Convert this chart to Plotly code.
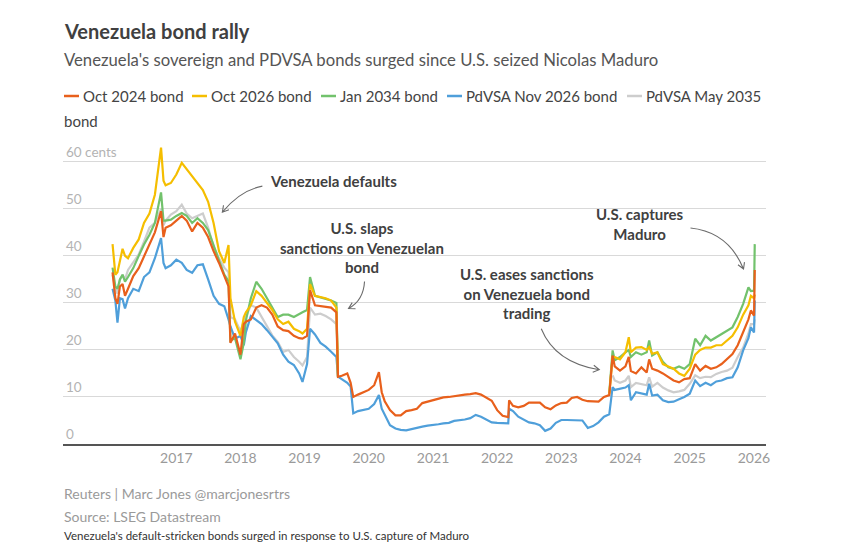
import math
import plotly.graph_objects as go

# ---------------- data (cents on the dollar) ----------------
dates = [
    "2016-01-04", "2016-01-20", "2016-02-01", "2016-02-15", "2016-03-01", "2016-03-15",
    "2016-04-01", "2016-05-01", "2016-06-01", "2016-07-01", "2016-08-01", "2016-09-01",
    "2016-10-06", "2016-10-20", "2016-11-01", "2016-12-01", "2017-01-01", "2017-02-01",
    "2017-03-01", "2017-04-01", "2017-05-01", "2017-06-01", "2017-07-01", "2017-08-01",
    "2017-09-01", "2017-10-01", "2017-10-25", "2017-11-05", "2017-12-01", "2018-01-01",
    "2018-01-20", "2018-02-01", "2018-03-01", "2018-04-01", "2018-05-01", "2018-06-01",
    "2018-07-01", "2018-08-01", "2018-09-01", "2018-10-01", "2018-11-01", "2018-12-01",
    "2018-12-20", "2019-01-15", "2019-02-01", "2019-03-01", "2019-04-01", "2019-05-01",
    "2019-06-01", "2019-07-01", "2019-07-10", "2019-08-01", "2019-09-01", "2019-09-20",
    "2019-10-05", "2019-11-01", "2019-12-01", "2020-01-01", "2020-02-01", "2020-02-28",
    "2020-03-15", "2020-04-01", "2020-05-01", "2020-06-01", "2020-07-01", "2020-08-01",
    "2020-09-01", "2020-10-01", "2020-11-01", "2020-12-01", "2021-01-01", "2021-02-01",
    "2021-03-01", "2021-04-01", "2021-05-01", "2021-06-01", "2021-07-01", "2021-08-01",
    "2021-09-01", "2021-10-01", "2021-11-01", "2021-12-01", "2022-01-01", "2022-02-01",
    "2022-03-05", "2022-03-10", "2022-04-01", "2022-05-01", "2022-06-01", "2022-07-01",
    "2022-08-01", "2022-09-01", "2022-10-01", "2022-11-01", "2022-12-01", "2023-01-01",
    "2023-02-01", "2023-03-01", "2023-04-01", "2023-05-01", "2023-06-01", "2023-07-01",
    "2023-08-01", "2023-09-01", "2023-10-01", "2023-10-20", "2023-11-01", "2023-12-01",
    "2024-01-01", "2024-01-20", "2024-02-01", "2024-03-01", "2024-04-01", "2024-05-01",
    "2024-05-15", "2024-06-01", "2024-07-01", "2024-08-01", "2024-09-01", "2024-10-01",
    "2024-11-01", "2024-12-01", "2025-01-01", "2025-02-01", "2025-03-01", "2025-04-01",
    "2025-05-01", "2025-06-01", "2025-07-01", "2025-08-01", "2025-09-01", "2025-10-01",
    "2025-11-01", "2025-12-01", "2025-12-15", "2026-01-02", "2026-01-06",
]

N = None
oct2024 = [
    36.5, 31, 29.8, 33.5, 34, 31.5, 33, 35.7, 37.4, 40, 42.5, 45,
    49.5, 44, 46, 46.5, 47.5, 48.5, 47.5, 45.2, 47, 46, 44, 41,
    38.5, 35.5, 33.5, 21.5, 23.5, 19, 25.5, 26, 26.5, 29, 29.5, 29,
    27.5, 25, 24.2, 24, 23, 22.5, 22.4, 23, 32.7, 29.5, 29.3, 29.2,
    29, 28, 14.3, 14.5, 15, 13, 10, 10.5, 11, 11.5, 12.5, 15.3,
    11, 9.1, 7.2, 6.1, 6.1, 7, 7.2, 7.5, 8.7, 9, 9.2, 9.5,
    9.9, 10, 10.2, 10.3, 10.5, 10.6, 10.8, 10.5, 9.9, 9.2, 7.2, 6,
    5.7, 9.3, 8.1, 7.8, 8.1, 8.8, 8.8, 8.8, 7.8, 7.4, 8.2, 8.7,
    8.8, 9.8, 10, 9.4, 9.1, 9, 9, 10, 10.4, 18.8, 16.5, 15.6,
    16.5, 18.5, 15.5, 15, 16.3, 15.2, 18, 16, 15.6, 15, 14.2, 13.5,
    13.1, 13.8, 14, 17, 15.6, 16.6, 16, 16.3, 17, 18, 19.1, 21,
    24, 26.5, 28.4, 27.3, 37,
]
oct2026 = [
    42.5, 36, 36.5, 39, 41.5, 40, 39.5, 41.7, 43.5, 47, 49, 53,
    63, 56, 55, 55.5, 57.3, 59.8, 58.5, 57, 55.5, 54, 51.5, 47,
    41, 38.5, 42.3, 31, 26, 23, 27, 28, 29.5, 32.5, 31.5, 30,
    28.5, 26.5, 25.5, 26, 24.5, 24, 23.5, 24.5, 34, 31.5, 31.2, 31,
    30.5, 29, 14.3, N, N, N, N, N, N, N, N, N,
    N, N, N, N, N, N, N, N, N, N, N, N,
    N, N, N, N, N, N, N, N, N, N, N, N,
    N, N, N, N, N, N, N, N, N, N, N, N,
    N, N, N, N, N, N, N, N, 10.6, 18.5, 18.5, 18,
    19.5, 22.7, 19.5, 20.5, 20.6, 20, 20.6, 19.2, 19.5, 17, 16.5, 16,
    15, 14.5, 16, 19, 20, 20.5, 20.5, 21, 21, 22, 23, 24.8,
    27.5, 29.5, 31.5, 31, 31.8,
]
jan2034 = [
    37.5, 33.5, 33, 35, 36, 34.5, 35.5, 37.4, 40, 42.4, 44.5, 47,
    53.5, 47.5, 47.5, 47.7, 48.5, 49.1, 48.5, 47, 48, 47, 45.5, 42,
    39, 36, 34.6, 22, 22.5, 18, 21.5, 26.3, 31, 34.5, 33, 31,
    29, 27, 27.5, 27.5, 27, 27.7, 28, 28.5, 35.5, 31.5, 31.2, 30.8,
    30.5, 30, 14.3, N, N, N, N, N, N, N, N, N,
    N, N, N, N, N, N, N, N, N, N, N, N,
    N, N, N, N, N, N, N, N, N, N, N, N,
    N, N, N, N, N, N, N, N, N, N, N, N,
    N, N, N, N, N, N, N, N, 10.8, 19.9, 17.8, 18.5,
    19.5, 20, 18.5, 19.5, 19, 19.5, 22, 18.8, 19.5, 17.5, 16.3, 16,
    16.5, 16, 17, 22.4, 21, 23, 22, 22.7, 23.5, 24.1, 24.8, 27,
    29.8, 33.3, 32.5, 32.6, 42.5,
]
pdvsa_nov2026 = [
    33, 30.5, 25.8, 31, 30.8, 28.8, 31, 33, 32.5, 35.5, 36.5, 39.5,
    43.8, 38.5, 37.4, 38, 39.2, 38.5, 37, 36.4, 38, 38.2, 35, 31.5,
    29.8, 29.3, 26.5, 25, 22.4, 23, 21, 23.8, 27.2, 26.3, 25.5, 24.2,
    22.8, 21.4, 19, 17.5, 16.8, 15, 13.2, 17, 24.5, 23.3, 21.5, 20.7,
    19.6, 18.5, 14.3, 13.8, 13, 12.2, 6.5, 7, 7.2, 7.5, 8.5, 10.4,
    7.5, 6.1, 4, 3.3, 3, 2.9, 3.2, 3.5, 3.7, 3.9, 4, 4.2,
    4.4, 4.5, 4.9, 5, 5.2, 5.5, 6.2, 5.8, 5.2, 4.6, 4.5, 4.4,
    4.4, 7.5, 7, 5.8, 5.2, 4.6, 4.4, 4, 2.8, 3.3, 4.5, 5.1,
    5.1, 5.1, 5.1, 5, 3.4, 3.8, 4.6, 5.8, 6.3, 12.1, 11.5, 11.8,
    12, 12.5, 9.3, 11, 10.8, 10.5, 12.8, 10.3, 10.5, 9.3, 8.9, 9,
    9.5, 10, 10.7, 13.5, 12.3, 13, 12.5, 13.3, 13.5, 14, 14.2, 16.3,
    19.9, 22.5, 24.8, 23.7, 30.5,
]
pdvsa_may2035 = [
    36, 33, 32, 35, 36, 35, 37, 38.5, 40.3, 43, 46, 47,
    50, 46.5, 47.5, 48.8, 49.5, 50.9, 49, 48, 48.5, 49, 46, 42,
    39.5, 37.5, 36.5, 27, 26.5, 24, 26, 27, 29.5, 29, 27, 25,
    23.1, 21.7, 19.6, 20, 18.5, 17.5, 16.7, 18.5, 29, 27.5, 27.7, 27.2,
    26.5, 25.5, 14.3, N, N, N, N, N, N, N, N, N,
    N, N, N, N, N, N, N, N, N, N, N, N,
    N, N, N, N, N, N, N, N, N, N, N, N,
    N, N, N, N, N, N, N, N, N, N, N, N,
    N, N, N, N, N, N, N, N, N, 14.6, 13.5, 13,
    13.5, 14.5, 12.1, 13, 12.8, 12.5, 14.2, 12.2, 13, 12, 11.4, 11,
    11.2, 11.5, 12.8, 14.6, 14, 14.3, 14.2, 14.9, 15.3, 15.6, 16.2, 18.5,
    20.5, 23.5, 25.5, 25.5, 26.5,
]

series_names = ["Oct 2024 bond", "Oct 2026 bond", "Jan 2034 bond",
                "PdVSA Nov 2026 bond", "PdVSA May 2035 bond"]
series_values = [oct2024, oct2026, jan2034, pdvsa_nov2026, pdvsa_may2035]
series_colors = ["#E8601C", "#F5BE00", "#72C26C", "#4F9FDA", "#CDCDCD"]

ytick_vals = [0, 10, 20, 30, 40, 50, 60]
ytick_text = ["0", "10", "20", "30", "40", "50", "60 cents"]
xtick_vals = ["%d-01-01" % y for y in range(2017, 2027)]
xtick_text = [str(y) for y in range(2017, 2027)]

# ---------------- layout geometry ----------------
W, H = 845, 558
ML, MR, MT, MB = 63, 79, 143, 114
PW, PH = W - ML - MR, H - MT - MB
FONT = "Lato, 'Noto Sans', sans-serif"


def pxx(X):
    return (X - ML) / PW


def pxy(Y):
    return (H - MB - Y) / PH


fig = go.Figure()

# draw order: grey, blue, green, yellow, orange on top
for idx in [4, 3, 2, 1, 0]:
    fig.add_trace(go.Scatter(
        x=dates, y=series_values[idx], mode="lines", name=series_names[idx],
        line=dict(color=series_colors[idx], width=2.2), showlegend=False,
        hoverinfo="skip"))

annotations = []
shapes = []

# title / subtitle
annotations.append(dict(text="<b>Venezuela bond rally</b>", xref="paper", yref="paper",
                        x=pxx(62), y=pxy(31), xanchor="left", yanchor="middle",
                        showarrow=False, font=dict(family=FONT, size=20, color="#404040")))
annotations.append(dict(text="Venezuela's sovereign and PDVSA bonds surged since U.S. seized Nicolas Maduro",
                        xref="paper", yref="paper", x=pxx(62), y=pxy(60), xanchor="left",
                        yanchor="middle", showarrow=False,
                        font=dict(family=FONT, size=16.7, color="#555555")))

# custom legend (wraps like the original)
leg_line_x = [64, 192, 321, 447, 627]
leg_row_y = 96
LEG_FONT = dict(family=FONT, size=15, color="#444444")
for i, name in enumerate(series_names):
    x0 = leg_line_x[i]
    shapes.append(dict(type="line", xref="paper", yref="paper",
                       x0=pxx(x0), x1=pxx(x0 + 15), y0=pxy(leg_row_y), y1=pxy(leg_row_y),
                       line=dict(color=series_colors[i], width=2.5)))
    label = name
    if i == len(series_names) - 1:
        first, last = name.rsplit(" ", 1)
        label = first
        annotations.append(dict(text=last, xref="paper", yref="paper", x=pxx(62),
                                y=pxy(121), xanchor="left", yanchor="middle", showarrow=False,
                                font=LEG_FONT))
    annotations.append(dict(text=label, xref="paper", yref="paper", x=pxx(x0 + 17),
                            y=pxy(leg_row_y), xanchor="left", yanchor="middle", showarrow=False,
                            font=LEG_FONT))

# event labels
ann_font = dict(family=FONT, size=15, color="#404040")
event_labels = [
    ("Venezuela defaults", "2019-06-12", 55.9),
    ("U.S. slaps<br>sanctions on Venezuelan<br>bond", "2019-11-23", 41.85),
    ("U.S. eases sanctions<br>on Venezuela bond<br>trading", "2022-06-20", 32.0),
    ("U.S. captures<br>Maduro", "2024-03-25", 46.85),
]
for txt, xd, yv in event_labels:
    annotations.append(dict(text="<b>" + txt + "</b>", x=xd, y=yv, xref="x", yref="y",
                            xanchor="center", yanchor="middle", align="center",
                            showarrow=False, font=ann_font))

# curved arrows: head anchored on the chart, (tail, control) as screen-pixel offsets
arrows = [
    ("2017-09-20", 49.3, (40, -26), (18, -22)),
    ("2019-09-08", 28.8, (16, -27), (15, -8)),
    ("2023-08-05", 15.8, (-58, -41), (-44, -7)),
    ("2025-11-03", 37.2, (-53, -41), (-15, -37)),
]
for xd, yv, (tx, ty), (cx, cy) in arrows:
    d = math.hypot(cx, cy)
    bx, by = cx / d, cy / d
    L, th = 7, math.radians(30)
    p1 = (L * (bx * math.cos(th) - by * math.sin(th)), L * (bx * math.sin(th) + by * math.cos(th)))
    p2 = (L * (bx * math.cos(-th) - by * math.sin(-th)), L * (bx * math.sin(-th) + by * math.cos(-th)))
    path = (f"M{tx},{-ty} Q{cx},{-cy} 0,0 "
            f"M{p1[0]:.2f},{-p1[1]:.2f} L0,0 L{p2[0]:.2f},{-p2[1]:.2f}")
    shapes.append(dict(type="path", xref="x", yref="y", xsizemode="pixel", ysizemode="pixel",
                       xanchor=xd, yanchor=yv, path=path,
                       line=dict(color="#6b6b6b", width=1.1)))

# footer
foot = [
    ("Reuters | Marc Jones @marcjonesrtrs", 493.5, 14, "#9a9a9a"),
    ("Source: LSEG Datastream", 516, 14, "#9a9a9a"),
    ("Venezuela's default-stricken bonds surged in response to U.S. capture of Maduro", 535.5, 11.5, "#333333"),
]
for txt, yy, sz, col in foot:
    annotations.append(dict(text=txt, xref="paper", yref="paper", x=pxx(62), y=pxy(yy),
                            xanchor="left", yanchor="middle", showarrow=False,
                            font=dict(family=FONT, size=sz, color=col)))

fig.update_layout(
    width=W, height=H,
    margin=dict(l=ML, r=MR, t=MT, b=MB, autoexpand=False),
    paper_bgcolor="white", plot_bgcolor="white",
    showlegend=False,
    font=dict(family=FONT),
    annotations=annotations,
    shapes=shapes,
    xaxis=dict(
        type="date", range=["2015-03-28", "2026-03-11"],
        tickvals=xtick_vals, ticktext=xtick_text, showgrid=False,
        showline=True, linecolor="#555555", linewidth=1.6, ticks="",
        tickfont=dict(family=FONT, size=14, color="#9a9a9a"), zeroline=False,
    ),
    yaxis=dict(
        range=[0, 64], tickvals=ytick_vals, ticktext=ytick_text,
        showgrid=True, gridcolor="#d9d9d9", gridwidth=1, zeroline=False,
        showline=False, ticks="", ticklabelposition="inside top",
        tickfont=dict(family=FONT, size=13.5, color="#b3b3b3"),
    ),
)

fig.write_html("out.html")
